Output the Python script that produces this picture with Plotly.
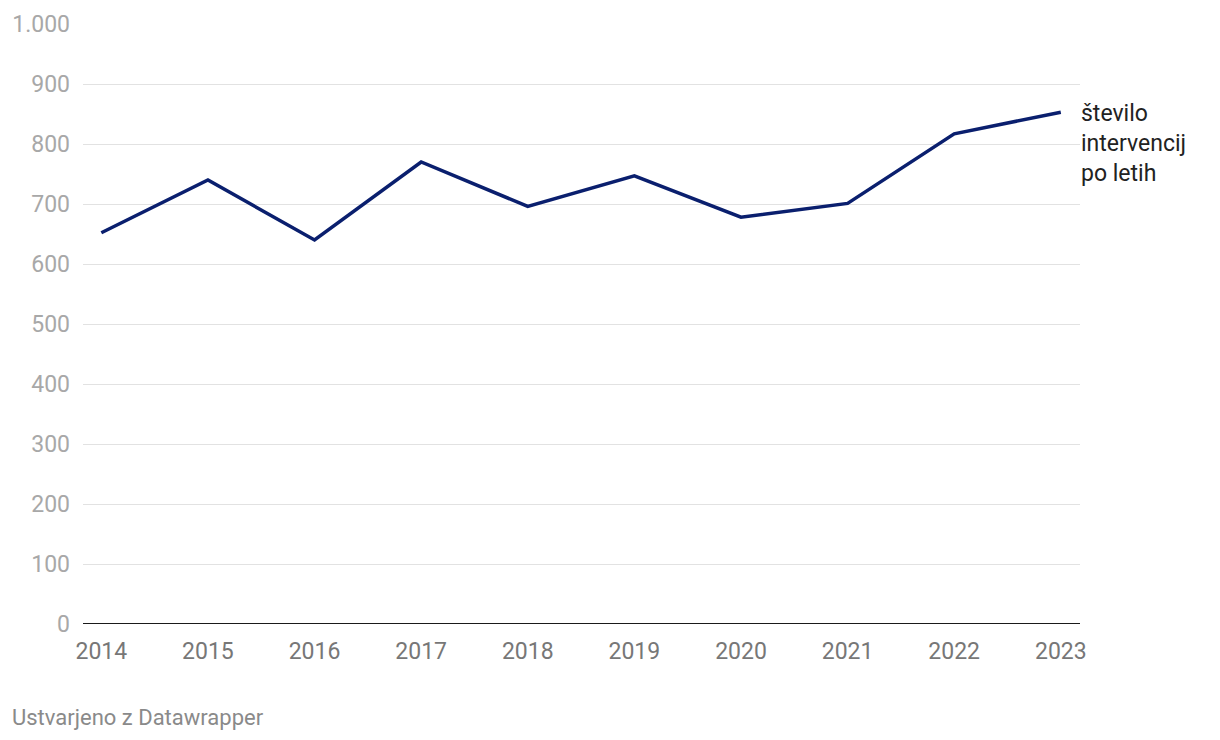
import plotly.graph_objects as go

years = [2014, 2015, 2016, 2017, 2018, 2019, 2020, 2021, 2022, 2023]
interventions = [652, 740, 640, 770, 696, 747, 678, 701, 817, 853]
y_ticks = [0, 100, 200, 300, 400, 500, 600, 700, 800, 900, 1000]
y_tick_labels = ["0", "100", "200", "300", "400", "500", "600", "700", "800", "900", "1.000"]
series_label = "število<br>intervencij<br>po letih"
footer = "Ustvarjeno z Datawrapper"

fig = go.Figure()
fig.add_trace(go.Scatter(
    x=years, y=interventions, mode="lines",
    line=dict(color="#0a1f6e", width=3.5),
    hoverinfo="skip", showlegend=False,
))

fig.update_layout(
    width=1220, height=740,
    margin=dict(l=83, r=140, t=24, b=116),
    paper_bgcolor="white", plot_bgcolor="white",
    font=dict(family="Roboto", size=23),
    xaxis=dict(
        range=[2013.828, 2023.18],
        tickvals=years, ticktext=[str(y) for y in years],
        showgrid=False, zeroline=False, showline=False,
        ticks="", tickfont=dict(color="#777777", size=23),
        ticklabelstandoff=11,
    ),
    yaxis=dict(
        range=[0, 1000],
        tickvals=y_ticks, ticktext=y_tick_labels,
        showgrid=True, gridcolor="#e2e2e2", gridwidth=1,
        zeroline=False, showline=False, ticks="",
        tickfont=dict(color="#a8a8a8", size=23),
        ticklabelstandoff=12,
    ),
    shapes=[dict(type="line", xref="paper", yref="y", x0=0, x1=1, y0=0, y1=0,
                 line=dict(color="#1a1a1a", width=2))],
    annotations=[
        dict(x=years[-1], y=801, xref="x", yref="y", text=series_label,
             showarrow=False, xanchor="left", yanchor="middle", align="left",
             xshift=18, font=dict(color="#222222", size=23)),
        dict(x=-73/997, y=-(717-624)/600, xref="paper", yref="paper", text=footer,
             showarrow=False, xanchor="left", yanchor="middle",
             font=dict(color="#8a8a8a", size=22)),
    ],
)

fig.write_html("out.html")
